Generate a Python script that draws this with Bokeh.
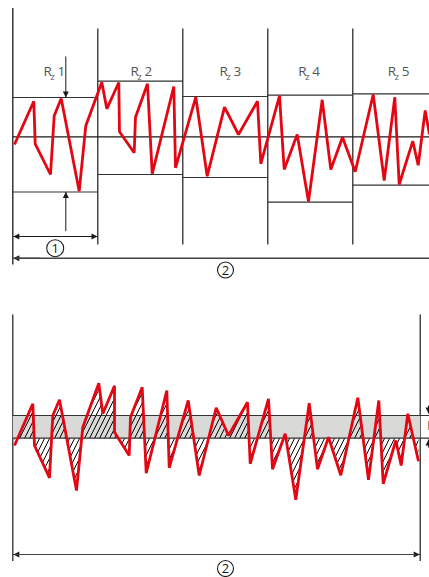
import math
from bokeh.plotting import figure
from bokeh.models import Range1d
from bokeh.embed import file_html
from bokeh.resources import INLINE
from bokeh.core.properties import value

# Top panel profile (horizontal position, vertical position on the page scale)
top_x = [14,33.3,34.7,50,53.7,60.7,78.7,85.3,101.3,106.3,118.3,119,133.7,135,147,151.7,173.3,175,195.3,206.7,224,238,257,260.3,279,283.7,296.7,308,321.7,330.3,342,354.7,372.7,383.7,394.3,398.7,412.3,417.7,424.7,429]
top_y = [144,100.7,143.3,174,115.3,98,190.7,125.3,81.7,108.3,82,131.3,152.3,116.7,83.3,173.3,86,167.3,96.7,175.7,106.7,134,100.7,163.3,95.3,169,134,201,99.3,169,136.7,171.3,94,180,96.7,184,140.7,164.7,110,134]
# Bottom panel profile
bot_x = [14,32.3,34,49,52.3,59,76,82.3,98.3,102.3,114,114,128.7,130,141.7,145.7,166.3,168.7,187.7,198.7,215.7,228,247,249.7,268,272,284.7,295.3,308.7,317,328,340.3,357.3,368,378.3,382.7,395.3,400.7,407.3,418]
bot_y = [445,403.3,445,477.3,415,399.3,490,426.7,382.7,413.3,385.3,431.7,455,416.7,386.7,472.7,390,467.3,400,475,407.3,435,401.7,463.3,398.3,468.7,433.3,499.3,402.7,468.7,436.7,474.7,397.3,479.3,400,483.3,440,465,413.3,460.7]
# Sampling boundaries and Rz levels
edges = [12.3,97.3,182.3,267.3,352.3,437]
rz_top = [97,80.7,96,94.7,93.3]
rz_bot = [191.5,174,177,201.7,184.7]
rz_lab = ["1","2","3","4","5"]
rz_left = [43,130,219,297.7,387.3]
mean_top = 136.3
band_top, band_bot = 415,437.7

RED="#e30613"; INK="#1a1a1a"; GREY="#555555"
p = figure(width=429,height=577,output_backend="svg",toolbar_location=None,
           x_range=Range1d(0,429),y_range=Range1d(577,0),min_border=0,outline_line_color=None)
p.axis.visible=False; p.grid.visible=False
p.background_fill_color="white"

# verticals
p.segment([12.3],[7.5],[12.3],[264],line_color=INK,line_width=1.3)
p.segment(edges[1:5],[28]*4,edges[1:5],[244]*4,line_color=INK,line_width=1.2)
p.segment([12.3,419.7],[314,314],[12.3,419.7],[560.5,560.5],line_color=INK,line_width=1.2)
# Rz levels
for i in range(5):
    p.segment([edges[i]],[rz_top[i]],[edges[i+1]],[rz_top[i]],line_color="#333333",line_width=1.2)
    p.segment([edges[i]],[rz_bot[i]],[edges[i+1]],[rz_bot[i]],line_color="#333333",line_width=1.2)
p.segment([12.3],[mean_top],[429],[mean_top],line_color=INK,line_width=1.2)
p.line(top_x,top_y,line_color=RED,line_width=2.8,line_join="bevel")

# band
p.quad(left=[12.3],right=[419.7],top=[band_top],bottom=[band_bot],fill_color="#d9d9d8",line_color=None)
p.patch(bot_x+[418,14],bot_y+[band_bot,band_bot],fill_color=None,fill_alpha=0,line_color=None,
        hatch_pattern="right_diagonal_line",hatch_color="#000000",hatch_scale=10,hatch_weight=1)
p.segment([12.3,12.3],[band_top,band_bot],[429,429],[band_top,band_bot],line_color="#333333",line_width=1.2)
p.line(bot_x,bot_y,line_color=RED,line_width=2.8,line_join="bevel")

# arrows
def arrow(x0,y0,x1,y1,lw=1):
    p.segment([x0],[y0],[x1],[y1],line_color=INK,line_width=lw)
    a=math.atan2(y1-y0,x1-x0); L=6;W=3
    bx,by=x1-L*math.cos(a),y1-L*math.sin(a)
    nx,ny=-math.sin(a),math.cos(a)
    p.patch([x1,bx+W*nx,bx-W*nx],[y1,by+W*ny,by-W*ny],fill_color=INK,line_color=None)
arrow(65.3,56,65.3,97)
arrow(65.3,230.7,65.3,191.5)
arrow(20,236,12.8,236); arrow(90,236,97,236); p.segment([15],[236],[92],[236],line_color=INK,line_width=1)
arrow(40,257.7,12.8,257.7); p.segment([15],[257.7],[429],[257.7],line_color="#444444",line_width=1.6)
arrow(40,554,12.8,554); arrow(380,554,419.2,554); p.segment([15],[554],[415],[554],line_color="#444444",line_width=1.2)
arrow(428,405,428,413); arrow(428,447,428,439)

# labels
font=value("Open Sans")
for x,l in zip(rz_left,rz_lab):
    p.text([x],[70.5],text=["R"],text_font=font,text_font_size="13.5px",text_color=GREY,text_align="left",text_baseline="middle")
    p.text([x+7],[75.5],text=["z"],text_font=font,text_font_size="9px",text_color=GREY,text_align="left",text_baseline="middle")
    p.text([x+14],[70.5],text=[l],text_font=font,text_font_size="13.5px",text_color=GREY,text_align="left",text_baseline="middle")
p.text([426.5],[424],text=["R"],text_font=font,text_font_size="13.5px",text_color=GREY,text_align="left",text_baseline="middle")

for (x,y,t,s) in [(54.7,247.7,"1",17),(225,269.5,"2",16),(225,568,"2",16)]:
    p.scatter([x],[y],size=s,marker="circle",fill_color="white",line_color=INK,line_width=1.1)
    p.text([x],[y],text=[t],text_font=font,text_font_size="13px",text_color=INK,text_align="center",text_baseline="middle")

open("out.html","w").write(file_html(p,INLINE))
